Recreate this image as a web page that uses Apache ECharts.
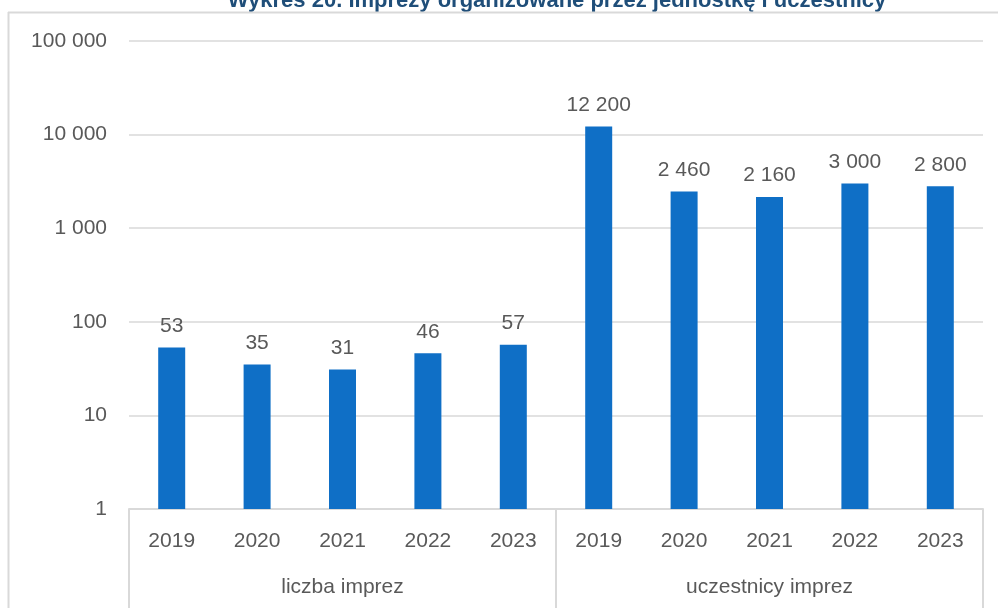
<!DOCTYPE html>
<html>
<head>
<meta charset="utf-8">
<script src="https://cdn.jsdelivr.net/npm/echarts@6/dist/echarts.min.js"></script>
<style>
  html, body { margin: 0; padding: 0; background: #fff; }
  #chart { width: 998px; height: 608px; }
</style>
</head>
<body>
<div id="chart"></div>
<script>
// Dane wykresu
const years = ['2019', '2020', '2021', '2022', '2023', '2019', '2020', '2021', '2022', '2023'];
const groups = ['liczba imprez', 'uczestnicy imprez'];
const values = [53, 35, 31, 46, 57, 12200, 2460, 2160, 3000, 2800];
const titleText = 'Wykres 20. Imprezy organizowane przez jednostkę i uczestnicy';

const fmt = v => String(v).replace(/\B(?=(\d{3})+(?!\d))/g, ' ');
const font = 'Liberation Sans';
const gray = '#595959';
const lineGray = '#d9d9d9';

const myChart = echarts.init(document.getElementById('chart'));

const option = {
    animation: false,
    textStyle: { fontFamily: font },
    grid: { left: 129, right: 15, top: 41, bottom: 99, containLabel: false },
    graphic: [
        // tytuł (przycięty u góry jak w oryginale)
        {
            type: 'text', x: 557, y: 12,
            style: {
                text: titleText, fontFamily: font, fontWeight: 'bold', fontSize: 22,
                fill: '#1f4e79', align: 'center', verticalAlign: 'bottom'
            }
        },
        // ramka wykresu
        { type: 'line', shape: { x1: 8.5, y1: 12, x2: 8.5, y2: 608 }, style: { stroke: lineGray, lineWidth: 2 } },
        { type: 'line', shape: { x1: 8, y1: 12.5, x2: 998, y2: 12.5 }, style: { stroke: lineGray, lineWidth: 2 } }
    ],
    xAxis: [
        {
            type: 'category',
            data: years,
            axisLine: { lineStyle: { color: lineGray, width: 2 } },
            axisTick: { show: false },
            axisLabel: { color: gray, fontSize: 21, margin: 22, interval: 0 }
        },
        {
            type: 'category',
            data: groups,
            position: 'bottom',
            axisLine: { show: false },
            axisTick: { show: true, length: 100, interval: 0, lineStyle: { color: lineGray, width: 2 } },
            axisLabel: { color: gray, fontSize: 21, margin: 68, interval: 0 }
        }
    ],
    yAxis: {
        type: 'log',
        logBase: 10,
        min: 1,
        max: 100000,
        axisLine: { show: false },
        axisTick: { show: false },
        splitLine: { lineStyle: { color: lineGray, width: 1.5 } },
        axisLabel: { color: gray, fontSize: 21, margin: 22, formatter: v => fmt(v) }
    },
    series: [
        {
            type: 'bar',
            data: values,
            barWidth: 27,
            itemStyle: { color: '#0f6fc6' },
            label: {
                show: true,
                position: 'top',
                distance: 11,
                color: gray,
                fontSize: 21,
                formatter: p => fmt(p.value)
            }
        }
    ]
};

myChart.setOption(option);
</script>
</body>
</html>
